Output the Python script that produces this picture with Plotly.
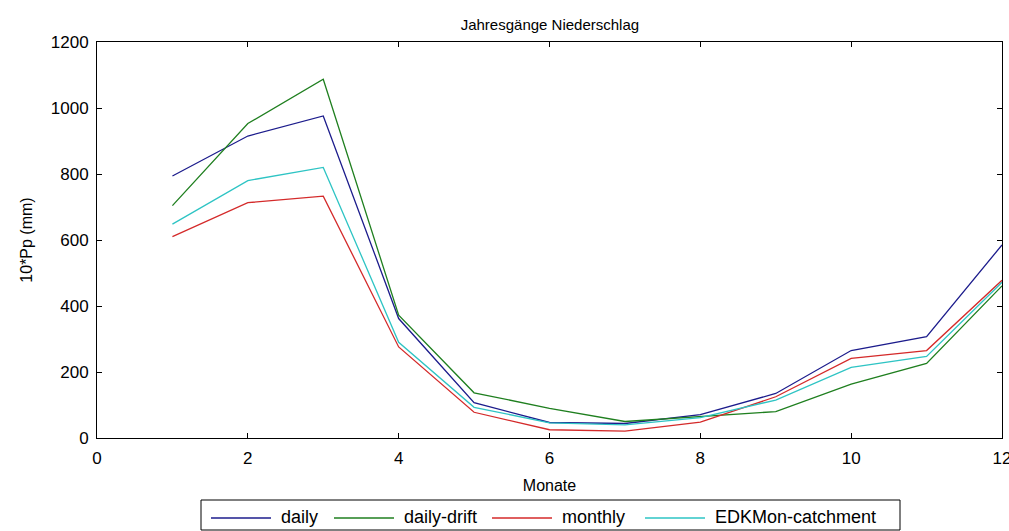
import plotly.graph_objects as go

months = [1, 2, 3, 4, 5, 6, 7, 8, 9, 10, 11, 12]
daily = [794, 915, 976, 362, 107, 47, 44, 71, 135, 265, 307, 585]
daily_drift = [704, 953, 1087, 372, 137, 90, 50, 66, 80, 163, 226, 461]
monthly = [610, 713, 733, 276, 78, 25, 21, 48, 125, 241, 265, 478]
edkmon = [648, 780, 820, 290, 93, 46, 40, 62, 115, 214, 247, 472]

series_names = ["daily", "daily-drift", "monthly", "EDKMon-catchment"]
series_values = [daily, daily_drift, monthly, edkmon]
series_colors = ["#1c1c8c", "#1f7f1f", "#d42a2a", "#2ec4c4"]

fig = go.Figure()
for name, vals, col in zip(series_names, series_values, series_colors):
    fig.add_trace(go.Scatter(x=months, y=vals, mode="lines", name=name,
                             line=dict(color=col, width=1.3), showlegend=False))

font = "Liberation Sans, Arial, sans-serif"
axis_common = dict(showgrid=False, zeroline=False, showline=True, linecolor="black",
                   linewidth=1, mirror="ticks", ticks="inside", ticklen=5,
                   tickcolor="black", ticklabeloverflow="allow", automargin=False,
                   tickfont=dict(size=17, color="black", family=font))

# plot area geometry (pixels) for placing the boxed legend below the axes
L, R, T, B = 97, 1002, 42, 438
def px(x):
    return (x - L) / (R - L)
def py(y):
    return (B - y) / (B - T)

shapes = [dict(type="rect", xref="paper", yref="paper",
               x0=px(201), x1=px(900), y0=py(500), y1=py(530),
               line=dict(color="black", width=1), fillcolor="white", layer="above")]
annotations = []
entry_left = [211, 334, 492, 645]
line_len = 60
for name, col, x0 in zip(series_names, series_colors, entry_left):
    shapes.append(dict(type="line", xref="paper", yref="paper",
                       x0=px(x0), x1=px(x0 + line_len), y0=py(518), y1=py(518),
                       line=dict(color=col, width=1.3), layer="above"))
    annotations.append(dict(text=name, xref="paper", yref="paper",
                            x=px(x0 + line_len + 8), y=py(517), xanchor="left",
                            yanchor="middle", showarrow=False,
                            font=dict(size=18, color="black", family=font)))

fig.update_layout(
    width=1009, height=531,
    margin=dict(l=L, r=1009 - R, t=T, b=531 - B),
    paper_bgcolor="white", plot_bgcolor="white",
    title=dict(text="Jahresgänge Niederschlag", x=0.545, xanchor="center",
               y=0.953, yanchor="middle", font=dict(size=15, color="black", family=font)),
    xaxis=dict(range=[0, 12], tickvals=[0, 2, 4, 6, 8, 10, 12], ticklabelstandoff=5,
               title=dict(text="Monate", font=dict(size=16, color="black", family=font), standoff=12),
               **axis_common),
    yaxis=dict(range=[0, 1200], tickvals=[0, 200, 400, 600, 800, 1000, 1200], ticklabelstandoff=4,
               title=dict(text="10*Pp (mm)", font=dict(size=16, color="black", family=font), standoff=14),
               **axis_common),
    shapes=shapes,
    annotations=annotations,
    showlegend=False,
)

fig.write_html("out.html")
